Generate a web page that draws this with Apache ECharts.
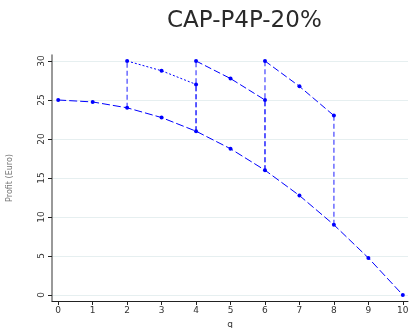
<!DOCTYPE html>
<html>
<head>
<meta charset="utf-8">
<script src="https://cdn.jsdelivr.net/npm/echarts@6/dist/echarts.min.js"></script>
<style>
  html, body { margin: 0; padding: 0; background: #fff; }
  #chart { width: 409px; height: 328px; }
</style>
</head>
<body>
<div id="chart"></div>
<script>
// baseline curve
var qValues = [0, 1, 2, 3, 4, 5, 6, 7, 8, 9, 10];
var profit = [25, 24.75, 24, 22.75, 21, 18.75, 16, 12.75, 9, 4.75, 0];
// the three jumps
var stepAQ = [2, 3, 4];
var stepA = [30, 28.75, 27];
var stepBQ = [4, 5, 6];
var stepB = [30, 27.75, 25];
var stepCQ = [6, 7, 8];
var stepC = [30, 26.75, 23];
var yTicks = [0, 5, 10, 15, 20, 25, 30];

function pairs(xs, ys) {
    var out = [];
    for (var i = 0; i < xs.length; i++) out.push([xs[i], ys[i]]);
    return out;
}
// vertical link from the baseline at q to a value v
function drop(q, v) {
    return [[q, profit[qValues.indexOf(q)]], [q, v]];
}

var blue = '#0000ff';
var series = [];
function addLine(data, dash, width, color, sym) {
    series.push({
        type: 'line',
        data: data,
        symbol: sym ? 'circle' : 'none',
        symbolSize: 4,
        itemStyle: { color: blue },
        lineStyle: { color: color, width: width, type: dash },
        animation: false,
        z: sym ? 3 : 2
    });
}

var steps = [[stepAQ, stepA, [2, 2]], [stepBQ, stepB, [7, 3]], [stepCQ, stepC, [7, 3]]];
steps.forEach(function (s) {
    var qs = s[0], vs = s[1];
    addLine(drop(qs[0], vs[0]), [5, 3], 1.4, 'rgba(40,40,255,0.75)', false);
    addLine(drop(qs[qs.length - 1], vs[vs.length - 1]), [5, 3], 1.4, 'rgba(40,40,255,0.75)', false);
    addLine(pairs(qs, vs), s[2], 1, blue, true);
});
addLine(pairs(qValues, profit), [8, 3], 1, blue, true);

var chart = echarts.init(document.getElementById('chart'));
chart.setOption({
    backgroundColor: '#fff',
    title: {
        text: 'CAP-P4P-20%',
        left: 162,
        top: 5,
        textStyle: { fontFamily: 'DejaVu Sans', fontWeight: 'normal', fontSize: 23, color: '#2a2a2a' }
    },
    grid: { left: 52, right: 1, top: 55, bottom: 27, outerBoundsMode: 'none' },
    xAxis: {
        type: 'value',
        min: -0.18,
        max: 10.15,
        name: 'q',
        nameLocation: 'middle',
        nameGap: 17,
        nameTextStyle: { fontFamily: 'DejaVu Sans', fontSize: 9, color: '#333' },
        axisLine: { onZero: false, lineStyle: { color: '#222', width: 1 } },
        axisTick: { customValues: qValues, length: 4, lineStyle: { color: '#222' } },
        axisLabel: { customValues: qValues, fontFamily: 'DejaVu Sans', fontSize: 9, color: '#333', margin: 5 },
        splitLine: { show: false }
    },
    yAxis: {
        type: 'value',
        min: -0.77,
        max: 30.77,
        name: 'Profit (Euro)',
        nameLocation: 'middle',
        nameGap: 38,
        nameTextStyle: { fontFamily: 'DejaVu Sans', fontSize: 8, color: '#777' },
        axisLine: { show: true, onZero: false, lineStyle: { color: '#777', width: 1.5 } },
        axisTick: { customValues: yTicks, length: 4, lineStyle: { color: '#222' } },
        axisLabel: { customValues: yTicks, rotate: 90, fontFamily: 'DejaVu Sans', fontSize: 9, color: '#333', margin: 6 },
        splitLine: { show: true, customValues: yTicks, lineStyle: { color: '#e6eff0', width: 1 } }
    },
    series: series
});
</script>
</body>
</html>
